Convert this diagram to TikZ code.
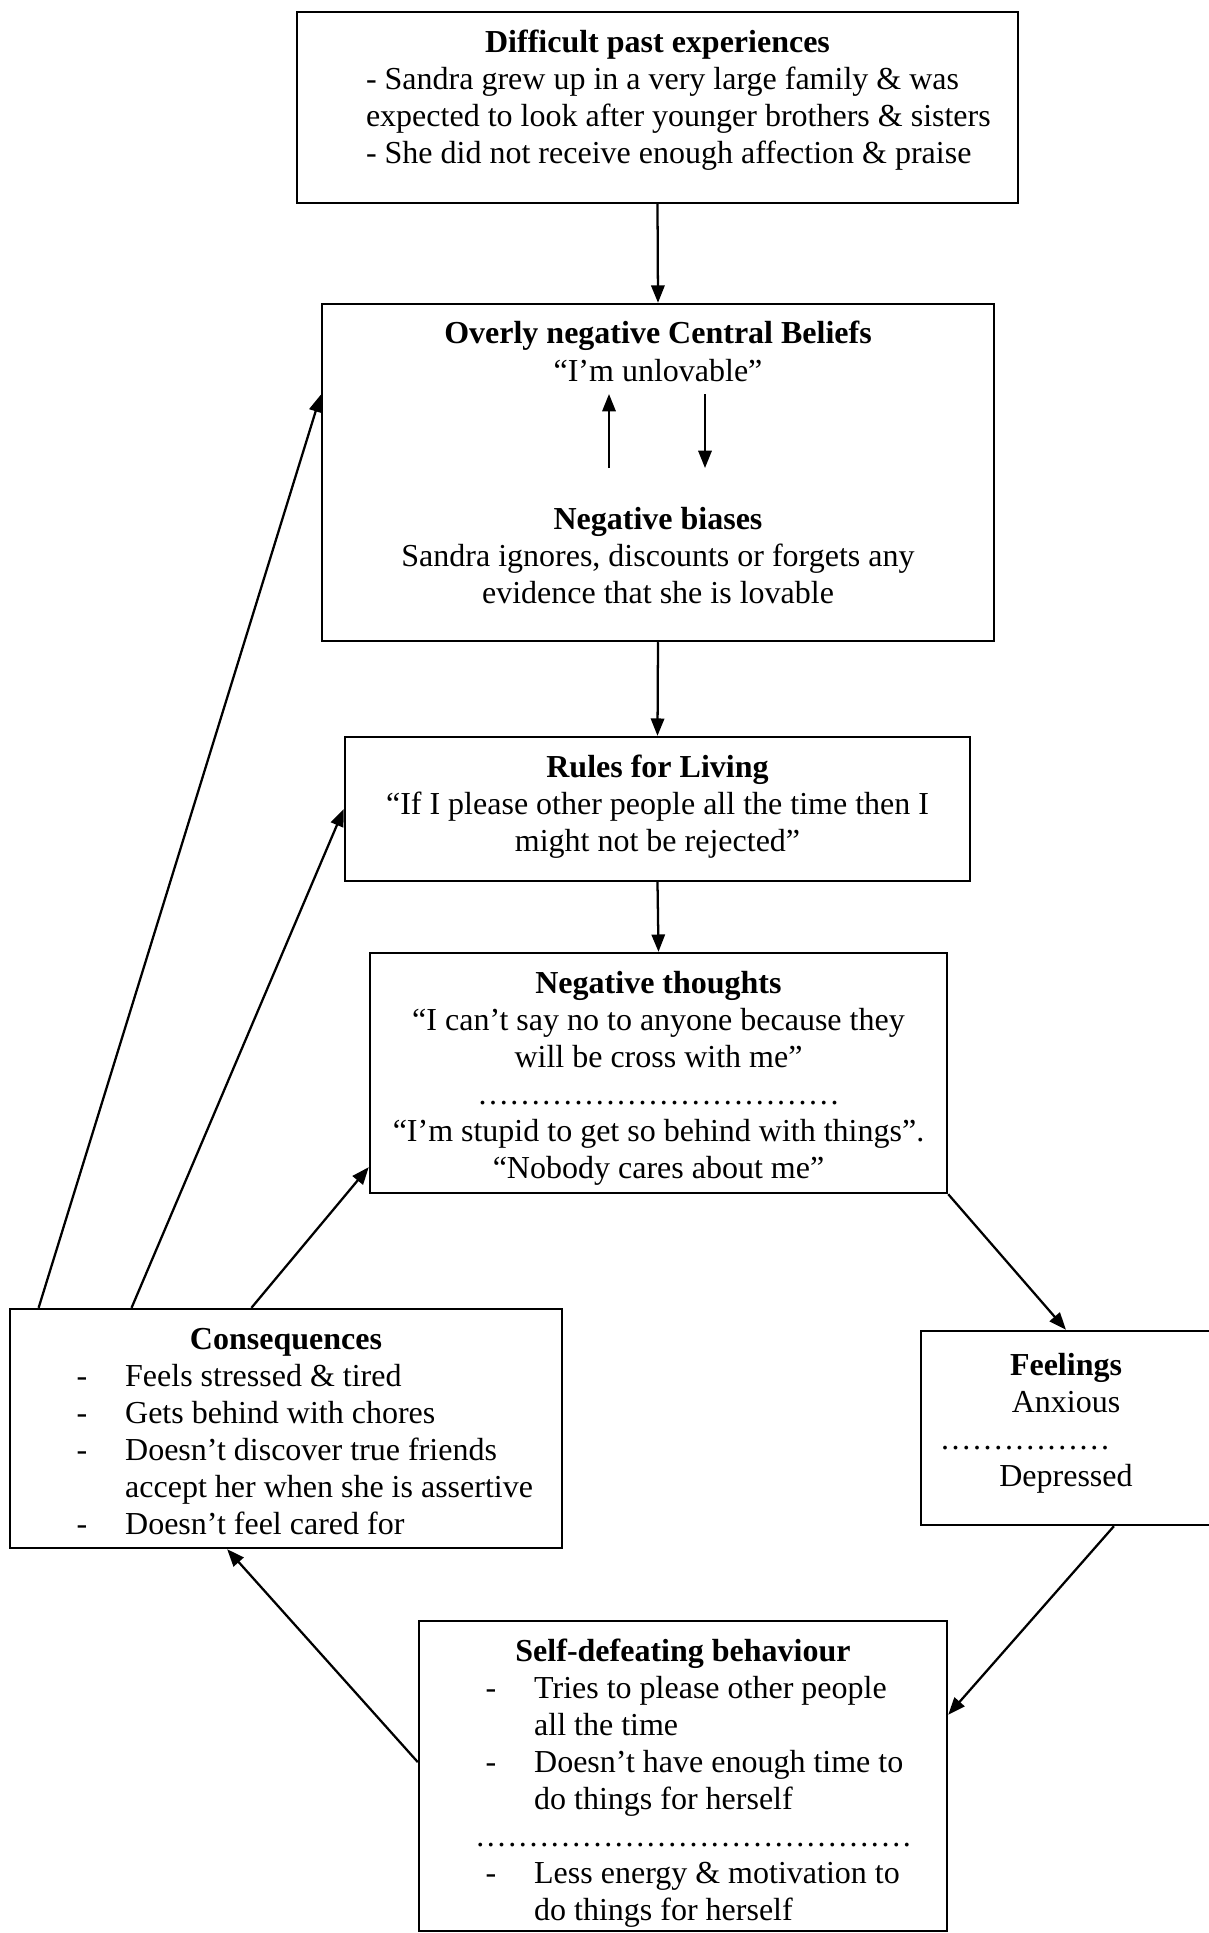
\documentclass[tikz,border=0pt]{standalone}
\usepackage{fontspec}
\setmainfont{Liberation Serif}
\usetikzlibrary{arrows.meta}

\begin{document}
\begin{tikzpicture}[x=0.375pt,y=-0.375pt,font=\fontsize{12}{13.9}\selectfont,
    box/.style={draw,line width=0.9pt,inner sep=0pt},
    arr/.style={line width=0.85pt,-{Triangle[length=6.5pt,width=5pt]}}]
        \useasboundingbox (0,0) rectangle (1208,1933);
        \node at (657.5,107.5) [box] (past) {\parbox[c][71.6pt][t]{270.4pt}{\centering\rule{0pt}{15pt}\textbf{Difficult past experiences}\par
            \raggedright\leftskip=25.9pt
            - Sandra grew up in a very large family \& was\\
            expected to look after younger brothers \& sisters\\
            - She did not receive enough affection \& praise}};
        \node at (658,472.5) [box] (core) {\parbox[c][126.4pt][t]{252pt}{\centering\rule{0pt}{15pt}\textbf{Overly negative Central Beliefs}\\
            “I’m unlovable”\\[41.7pt]
            \textbf{Negative biases}\\
            Sandra ignores, discounts or forgets any\\
            evidence that she is lovable}};
        \node at (657.5,809) [box] (rules) {\parbox[c][54pt][t]{234.4pt}{\centering\rule{0pt}{15pt}\textbf{Rules for Living}\\
            “If I please other people all the time then I\\
            might not be rejected”}};
        \node at (658.5,1073) [box] (thoughts) {\parbox[c][90pt][t]{216.4pt}{\centering\rule{0pt}{15pt}\textbf{Negative thoughts}\\
            “I can’t say no to anyone because they\\
            will be cross with me”\\
            \makebox[136pt][l]{\leaders\hbox to 4pt{\hss.\hss}\hfill}\\
            “I’m stupid to get so behind with things”.\\
            “Nobody cares about me”}};
        \node at (1066,1428) [box] (feelings) {\parbox[c][72.75pt][t]{108.75pt}{\centering\rule{0pt}{16.5pt}\textbf{Feelings}\\
            Anxious\\
            \makebox[\linewidth][l]{\hspace*{7pt}\makebox[64pt][l]{\leaders\hbox to 4pt{\hss.\hss}\hfill}}\\
            Depressed}};
        \node at (683,1776) [box] (selfdef) {\parbox[c][116.25pt][t]{198pt}{\centering\rule{0pt}{15pt}\textbf{Self-defeating behaviour}\par
            \raggedright
            \hspace*{25pt}\makebox[18.2pt][l]{-}Tries to please other people\\
            \hspace*{43.2pt}all the time\\
            \hspace*{25pt}\makebox[18.2pt][l]{-}Doesn’t have enough time to\\
            \hspace*{43.2pt}do things for herself\\
            \hspace*{21pt}\makebox[165pt][l]{\leaders\hbox to 4pt{\hss.\hss}\hfill}\\
            \hspace*{25pt}\makebox[18.2pt][l]{-}Less energy \& motivation to\\
            \hspace*{43.2pt}do things for herself}};
        \node at (286,1428.5) [box] (conseq) {\parbox[c][89.6pt][t]{207pt}{\centering\rule{0pt}{15pt}\textbf{Consequences}\par
            \raggedright
            \hspace*{25pt}\makebox[18.2pt][l]{-}Feels stressed \& tired\\
            \hspace*{25pt}\makebox[18.2pt][l]{-}Gets behind with chores\\
            \hspace*{25pt}\makebox[18.2pt][l]{-}Doesn’t discover true friends\\
            \hspace*{43.2pt}accept her when she is assertive\\
            \hspace*{25pt}\makebox[18.2pt][l]{-}Doesn’t feel cared for}};
        % arrows between belief and biases
        \coordinate (biasup) at (609,468);
        \coordinate (beliefup) at (609,394);
        \coordinate (beliefdown) at (705,394);
        \coordinate (biasdown) at (705,468);
        \draw[arr] (biasup) -- (beliefup);
        \draw[arr] (beliefdown) -- (biasdown);
        % main cycle
        \draw[arr] (past.south) -- (core.north);
        \draw[arr] (core.south) -- (rules.north);
        \draw[arr] (rules.south) -- (thoughts.north);
        \draw[arr] (thoughts.south east) -- (feelings.north);
        \draw[arr] (feelings.-64) -- (selfdef.13);
        \draw[arr] (selfdef.177) -- (conseq.244);
        \draw[arr] (conseq.106.8) -- (thoughts.198);
        \draw[arr] (conseq.142.7) -- (rules.west);
        \draw[arr] (conseq.154.5) -- (core.167.3);
    \end{tikzpicture}
\end{document}
